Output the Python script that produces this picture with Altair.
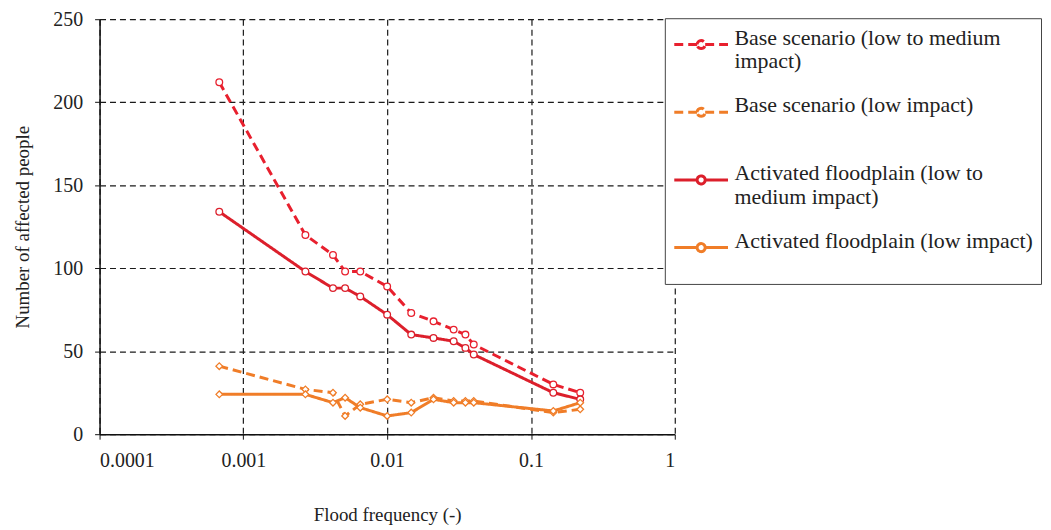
import altair as alt
import pandas as pd

# Flood frequency (x, log scale) shared by all series
freq = [0.00068, 0.0027, 0.0042, 0.0051, 0.0065, 0.0100, 0.0147, 0.0210, 0.0290, 0.0350, 0.0400, 0.1430, 0.2200]

base_low_to_medium = [212, 120, 108, 98, 98, 89, 73, 68, 63, 60, 54, 30, 25]
base_low = [41, 27, 25, 11, 18, 21, 19, 22, 20, 20, 20, 13, 15]
act_low_to_medium = [134, 98, 88, 88, 83, 72, 60, 58, 56, 52, 48, 25, 21]
act_low = [24, 24, 19, 22, 16, 11, 13, 21, 19, 19, 19, 14, 19]

names = [
    "Base scenario (low to medium impact)",
    "Base scenario (low impact)",
    "Activated floodplain (low to medium impact)",
    "Activated floodplain (low impact)",
]
label_lines = [
    ["Base scenario (low  to medium", "impact)"],
    ["Base scenario (low  impact)", " "],
    ["Activated floodplain (low to", "medium impact)"],
    ["Activated floodplain (low impact)", " "],
]
colors = ["#e8202e", "#f07d28", "#dc1f2b", "#f07d28"]
dashes = [[9, 5], [9, 5], [1, 0], [1, 0]]
shapes = ["circle", "diamond", "circle", "diamond"]

x_ticks = [0.0001, 0.001, 0.01, 0.1, 1]
y_ticks = [0, 50, 100, 150, 200, 250]

rows = []
for name, shp, vals in zip(names, shapes, [base_low_to_medium, base_low, act_low_to_medium, act_low]):
    for f, v in zip(freq, vals):
        rows.append({"series": name, "marker_series": name, "marker": shp, "freq": f, "value": v})
df = pd.DataFrame(rows)

FONT = "Liberation Serif"
W, H = 578, 417

label_expr = " : ".join(
    f"datum.label == '{n}' ? {l!r}" for n, l in zip(names, label_lines)
) + " : datum.label"

legend = alt.Legend(
    title=None,
    orient="none",
    legendX=568,
    legendY=-1,
    labelExpr=label_expr,
    labelFont=FONT,
    labelFontSize=22,
    labelColor="#222",
    labelLimit=400,
    labelOffset=15,
    labelBaseline="alphabetic",
    symbolType="M-1.6,0H-0.24M0.24,0H1.6M-0.24,0A0.24,0.24,0,1,1,0.24,0A0.24,0.24,0,1,1,-0.24,0Z",
    symbolSize=1139,
    symbolOffset=10,
    symbolStrokeWidth=3,
    symbolFillColor="white",
    strokeColor="#444",
    fillColor="white",
    padding=8,
    rowPadding=21,
)

x_enc = alt.X(
    "freq:Q",
    scale=alt.Scale(type="log", domain=[0.0001, 1], nice=False),
    axis=alt.Axis(
        values=x_ticks,
        format="~g",
        title="Flood frequency (-)",
        titleX=W / 2,
        titleY=81,
        titleBaseline="middle",
        labelPadding=11,
    ),
)
y_enc = alt.Y(
    "value:Q",
    scale=alt.Scale(domain=[0, 250], nice=False),
    axis=alt.Axis(
        values=y_ticks,
        title="Number of affected people",
        titleX=-77,
        titleY=H / 2,
        titleAngle=-90,
        titleAlign="center",
        titleBaseline="middle",
        labelPadding=12,
    ),
)

base = alt.Chart(df)
lines = base.mark_line(strokeWidth=3).encode(
    x=x_enc,
    y=y_enc,
    color=alt.Color("series:N", scale=alt.Scale(domain=names, range=colors), legend=legend),
    strokeDash=alt.StrokeDash("series:N", scale=alt.Scale(domain=names, range=dashes), legend=legend),
)
points = base.mark_point(filled=True, fill="white", size=45, strokeWidth=1.3, opacity=1).encode(
    x="freq:Q",
    y="value:Q",
    stroke=alt.Stroke("marker_series:N", scale=alt.Scale(domain=names, range=colors), legend=None),
    shape=alt.Shape("marker:N", scale=None),
)

chart = (
    alt.layer(lines, points)
    .properties(
        width=W,
        height=H,
        autosize=alt.AutoSizeParams(type="none"),
        padding={"left": 92, "top": 10, "right": 370, "bottom": 95},
    )
    .configure_view(stroke=None)
    .configure_axis(
        labelFont=FONT,
        titleFont=FONT,
        labelFontSize=20,
        titleFontSize=19,
        titleFontWeight="normal",
        labelColor="#222",
        titleColor="#222",
        domainColor="#111",
        domainWidth=1.5,
        tickColor="#111",
        tickSize=5,
        grid=True,
        gridColor="#1a1a1a",
        gridDash=[6, 4],
        gridWidth=1.2,
        gridOpacity=1,
    )
)

chart.save("out.html", embed_options={"renderer": "svg", "actions": False})
